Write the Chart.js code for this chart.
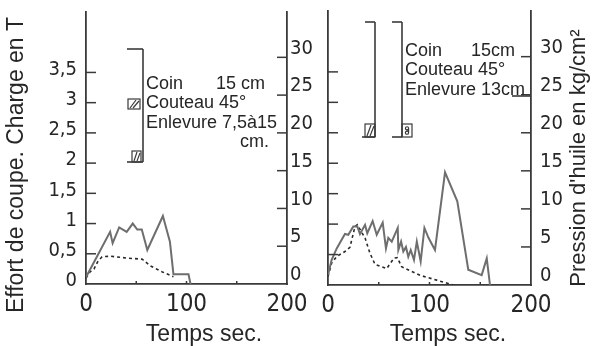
<!DOCTYPE html>
<html>
<head>
<meta charset="utf-8">
<script src="https://cdn.jsdelivr.net/npm/chart.js@4/dist/chart.umd.min.js"></script>
<style>
  html, body { margin: 0; background: #fff; }
  #wrap { position: relative; width: 593px; height: 346px; overflow: hidden; }
  canvas { position: absolute; top: 0; }
  #essai1 { left: 0; }
  #essai2 { left: 300px; }
</style>
</head>
<body>
<div id="wrap">
  <canvas id="essai1" width="320" height="346"></canvas>
  <canvas id="essai2" width="293" height="346"></canvas>
</div>
<script>
// Essai 1 : coin 15 cm, enlevure 7,5 a 15 cm
const temps1 = [0, 24, 26.5, 33, 40.5, 46.5, 51, 55.5, 61, 76.5, 83.5, 87, 102, 104];
const pression1 = [0.9, 6.9, 5.4, 7.5, 6.9, 8.0, 7.2, 7.2, 4.5, 9.0, 5.6, 1.3, 1.3, 0];
const tempsEffort1 = [0, 4, 8, 12, 16, 24, 40, 56, 64, 76, 87];
const effort1 = [0.1, 0.2, 0.25, 0.38, 0.45, 0.46, 0.43, 0.41, 0.3, 0.2, 0.12];

// Essai 2 : coin 15 cm, enlevure 13 cm
const temps2 = [0, 3.6, 8.6, 16.7, 20, 24.9, 28.9, 31.5, 36.5, 38.7, 44, 48, 53.9, 57.1, 59.4, 62.8,
  68.7, 69.3, 72, 74.2, 76.8, 79.1, 81.5, 84.7, 87.5, 91.3, 95, 99, 105.4, 115.3, 127.4, 138.2,
  151.4, 156.4, 159.6];
const pression2 = [1.3, 3.3, 4.8, 6.7, 6.6, 7.7, 7.7, 6.7, 7.9, 6.8, 8.4, 6.6, 8.2, 4.8, 6.2, 5.7,
  7.5, 4.6, 5.7, 4.4, 5.0, 3.7, 4.6, 3.3, 5.7, 3.1, 7.5, 6.2, 4.6, 14.8, 11.0, 2.0,
  1.3, 3.5, 0];
const tempsEffort2 = [0, 3.6, 8.6, 16.7, 21.6, 26.6, 28.9, 36.5, 41.4, 46.3, 57.8, 65, 68.3, 72.6, 90.6, 107, 123.4];
const effort2 = [0.14, 0.36, 0.47, 0.55, 0.62, 0.96, 0.99, 0.77, 0.52, 0.34, 0.27, 0.44, 0.45, 0.3, 0.16, 0.08, 0];

// graduations
const ticksCharge = [0, 0.5, 1, 1.5, 2, 2.5, 3, 3.5];
const ticksPression = [0, 5, 10, 15, 20, 25, 30];
const ticksTemps = [0, 50, 100, 150, 200];
const labelsTemps = [0, 100, 200];

const INK = "#262626";
const AXIS = "#3a3a3a";
const NARROW = "'Liberation Sans Narrow', 'DejaVu Sans Condensed', 'Liberation Sans', sans-serif";
const SANS = "'Liberation Sans', Arial, sans-serif";

Chart.defaults.color = INK;

const zip = (xs, ys) => xs.map((x, i) => ({ x: x, y: ys[i] }));

function line(ctx, x1, y1, x2, y2) {
  ctx.beginPath();
  ctx.moveTo(x1, y1);
  ctx.lineTo(x2, y2);
  ctx.stroke();
}

// petites graduations tracees vers l'interieur du cadre
const inwardTicks = {
  id: "inwardTicks",
  afterDraw(chart) {
    const { ctx, chartArea: a, scales } = chart;
    ctx.save();
    ctx.strokeStyle = AXIS;
    ctx.lineWidth = 1.5;
    [scales.yT, scales.yP].forEach((s) => {
      const left = s.position === "left";
      const x0 = left ? a.left : a.right;
      s.ticks.forEach((t) => {
        if (t.value === 0) return;
        const y = s.getPixelForValue(t.value);
        line(ctx, x0, y, x0 + (left ? 10 : -10), y);
      });
    });
    scales.x.ticks.forEach((t) => {
      if (t.value === 0 || t.value === 200) return;
      const x = scales.x.getPixelForValue(t.value);
      line(ctx, x, a.bottom, x, a.bottom - 3);
    });
    ctx.restore();
  },
};

function vText(ctx, text, x, y, font) {
  ctx.save();
  ctx.translate(x, y);
  ctx.rotate(-Math.PI / 2);
  ctx.font = font;
  ctx.textAlign = "center";
  ctx.textBaseline = "middle";
  ctx.fillText(text, 0, 0);
  ctx.restore();
}

function hatchBox(ctx, x, y, w, h) {
  ctx.strokeRect(x, y, w, h);
  line(ctx, x + 2, y + h - 1, x + w - 4, y + 1);
  line(ctx, x + 5, y + h - 1, x + w - 1, y + 2);
}

function dotBox(ctx, x, y, w, h) {
  ctx.strokeRect(x, y, w, h);
  ctx.beginPath();
  ctx.arc(x + w / 2, y + h / 3, 1.6, 0, Math.PI * 2);
  ctx.arc(x + w / 2, y + (2 * h) / 3, 1.6, 0, Math.PI * 2);
  ctx.stroke();
}

// schema du coin, textes et titres d'axes -- essai 1
const decor1 = {
  id: "decor1",
  afterDraw(chart) {
    const ctx = chart.ctx;
    ctx.save();
    ctx.strokeStyle = AXIS;
    ctx.fillStyle = INK;
    ctx.lineWidth = 1.6;
    line(ctx, 127, 49, 143, 49);
    line(ctx, 143, 49, 143, 162);
    line(ctx, 127, 162, 143, 162);
    ctx.lineWidth = 1.2;
    hatchBox(ctx, 128, 99, 12, 10);
    hatchBox(ctx, 132, 151, 9, 11);

    ctx.font = "18px " + SANS;
    ctx.textBaseline = "middle";
    ctx.fillText("Coin", 146, 84);
    ctx.fillText("15 cm", 216, 84);
    ctx.fillText("Couteau 45°", 146, 103);
    ctx.fillText("Enlevure 7,5à15", 146, 123);
    ctx.fillText("cm.", 240, 142);

    vText(ctx, "Effort de coupe. Charge en T", 17, 165, "23px " + SANS);
    ctx.font = "23px " + SANS;
    ctx.textAlign = "center";
    ctx.fillText("Temps sec.", 204, 335);
    ctx.restore();
  },
};

// schema et textes -- essai 2 (canvas decale de 300 px)
const decor2 = {
  id: "decor2",
  afterDraw(chart) {
    const ctx = chart.ctx;
    ctx.save();
    ctx.translate(-300, 0);
    ctx.strokeStyle = AXIS;
    ctx.fillStyle = INK;
    ctx.lineWidth = 1.6;
    line(ctx, 365, 22, 375, 22);
    line(ctx, 375, 22, 375, 137);
    line(ctx, 362, 137, 375, 137);
    line(ctx, 392, 22, 402, 22);
    line(ctx, 402, 22, 402, 137);
    line(ctx, 392, 137, 402, 137);
    line(ctx, 512, 96, 531, 96);
    ctx.lineWidth = 1.2;
    hatchBox(ctx, 365, 124, 10, 13);
    dotBox(ctx, 402, 124, 10, 13);

    ctx.font = "18px " + SANS;
    ctx.textBaseline = "middle";
    ctx.fillText("Coin", 405, 51);
    ctx.fillText("15cm", 471, 51);
    ctx.fillText("Couteau 45°", 405, 70);
    ctx.fillText("Enlevure 13cm", 405, 90);

    vText(ctx, "Pression d'huile en kg/cm²", 579, 158, "22px " + SANS);
    ctx.font = "23px " + SANS;
    ctx.textAlign = "center";
    ctx.fillText("Temps sec.", 448, 335);
    ctx.restore();
  },
};

// le haut du cadre est fixe par layout.padding seul
const noEdgePadding = (s) => {
  s.paddingTop = 0;
  s.paddingBottom = 0;
};

function makePanel(id, tP, vP, tE, vE, geom, decor) {
  return new Chart(document.getElementById(id), {
    type: "line",
    data: {
      datasets: [
        {
          data: zip(tP, vP),
          yAxisID: "yP",
          borderColor: "#6e6e6e",
          borderWidth: 2,
          pointRadius: 0,
          tension: 0,
        },
        {
          data: zip(tE, vE),
          yAxisID: "yT",
          borderColor: "#2a2a2a",
          borderWidth: 1.6,
          borderDash: [3, 3],
          pointRadius: 0,
          tension: 0,
        },
      ],
    },
    options: {
      responsive: false,
      animation: false,
      layout: { padding: { top: geom.top, left: 0, right: 0, bottom: 0 } },
      plugins: { legend: { display: false }, tooltip: { enabled: false } },
      scales: {
        x: {
          type: "linear",
          min: 0,
          max: 200,
          afterBuildTicks: (s) => { s.ticks = ticksTemps.map((v) => ({ value: v })); },
          afterFit: (s) => { s.height = geom.xHeight; },
          grid: { display: false, drawTicks: false },
          border: { display: true, color: AXIS, width: 1.8 },
          ticks: {
            autoSkip: false,
            maxRotation: 0,
            padding: 6,
            color: INK,
            font: { family: NARROW, size: 24 },
            callback: (v) => (labelsTemps.includes(v) ? String(v) : ""),
          },
        },
        yT: {
          position: "left",
          min: 0,
          max: 4.5,
          afterBuildTicks: (s) => { s.ticks = ticksCharge.map((v) => ({ value: v })); },
          afterFit: (s) => { s.width = geom.leftWidth; noEdgePadding(s); },
          grid: { display: false, drawTicks: false },
          border: { display: true, color: AXIS, width: 1.8 },
          ticks: {
            display: geom.chargeLabels,
            padding: 9,
            labelOffset: -3,
            color: INK,
            font: { family: NARROW, size: 20 },
            callback: (v) => String(v).replace(".", ","),
          },
        },
        yP: {
          position: "right",
          min: 0,
          max: 36,
          afterBuildTicks: (s) => { s.ticks = ticksPression.map((v) => ({ value: v })); },
          afterFit: (s) => { s.width = geom.rightWidth; noEdgePadding(s); },
          grid: { display: false, drawTicks: false },
          border: { display: true, color: AXIS, width: 1.8 },
          ticks: {
            padding: geom.rightPad,
            labelOffset: -9,
            color: INK,
            font: { family: NARROW, size: 20 },
          },
        },
      },
    },
    plugins: [inwardTicks, decor],
  });
}

makePanel("essai1", temps1, pression1, tempsEffort1, effort1,
  { top: 12, xHeight: 62, leftWidth: 86, rightWidth: 33, rightPad: 3, chargeLabels: true }, decor1);
makePanel("essai2", temps2, pression2, tempsEffort2, effort2,
  { top: 11, xHeight: 61, leftWidth: 28, rightWidth: 62, rightPad: 9, chargeLabels: false }, decor2);
</script>
</body>
</html>
